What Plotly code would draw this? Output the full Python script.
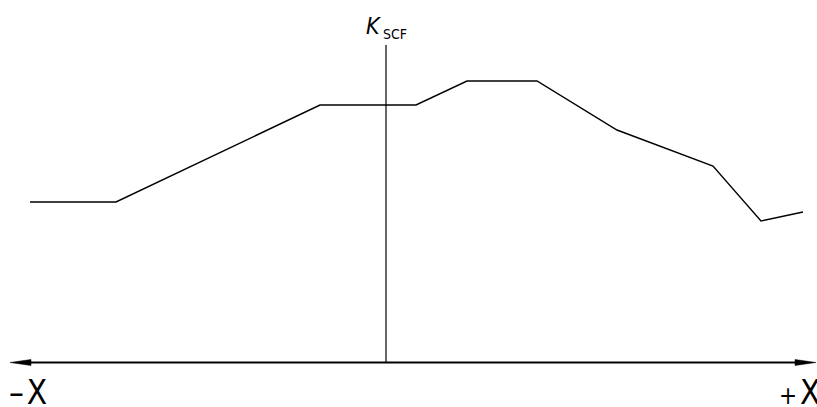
import plotly.graph_objects as go

# Data: position along X (arbitrary units, 0 at the K axis) and K_SCF values
x_pos = [-3.56, -2.70, -0.66, 0.30, 0.81, 1.51, 2.31, 3.27, 3.75, 4.17]
k_scf = [1.60, 1.60, 2.57, 2.57, 2.81, 2.81, 2.32, 1.96, 1.41, 1.50]
axis_labels = ["<span style='font-size:33px'>\u2013</span>\u200aX",
               "<span style='font-size:24px'>+</span>\u200aX"]
y_title_main = "<i>K</i>"
y_title_sub = "SCF"

W, H = 817, 407
X_RANGE = [-3.86, 4.31]
Y_RANGE = [-0.45, 3.62]

def px(xp):
    return xp / W

def py(yp):
    return 1 - yp / H

fig = go.Figure()
fig.add_trace(go.Scatter(x=x_pos, y=k_scf, mode="lines",
                         line=dict(color="black", width=1.4), hoverinfo="skip"))

AXY = 362.5  # pixel row of the horizontal axis
shapes = []
# horizontal axis line
shapes.append(dict(type="line", xref="paper", yref="paper",
                   x0=px(22), x1=px(806), y0=py(AXY), y1=py(AXY),
                   line=dict(color="black", width=2)))
# arrowheads (slim, CAD style)
shapes.append(dict(type="path", xref="paper", yref="paper",
                   path=f"M{px(10)},{py(AXY)} L{px(31)},{py(AXY-3)} L{px(31)},{py(AXY+3)} Z",
                   fillcolor="black", line=dict(color="black", width=0.5)))
shapes.append(dict(type="path", xref="paper", yref="paper",
                   path=f"M{px(816)},{py(AXY)} L{px(795)},{py(AXY-3)} L{px(795)},{py(AXY+3)} Z",
                   fillcolor="black", line=dict(color="black", width=0.5)))
# vertical K axis
shapes.append(dict(type="line", xref="x", yref="paper",
                   x0=0, x1=0, y0=py(AXY), y1=py(45),
                   line=dict(color="black", width=1.2)))

FONT = "DejaVu Sans Condensed, Liberation Sans Narrow, DejaVu Sans, sans-serif"
annotations = [
    dict(text=y_title_main, xref="paper", yref="paper", x=px(364), y=py(41),
         xanchor="left", yanchor="bottom", showarrow=False,
         font=dict(family=FONT, size=23, color="black")),
    dict(text=y_title_sub, xref="paper", yref="paper", x=px(381), y=py(44),
         xanchor="left", yanchor="bottom", showarrow=False,
         font=dict(family=FONT, size=14, color="black")),
    dict(text=axis_labels[0], xref="paper", yref="paper", x=px(7), y=py(392),
         xanchor="left", yanchor="middle", showarrow=False,
         font=dict(family=FONT, size=33, color="black")),
    dict(text=axis_labels[1], xref="paper", yref="paper", x=px(822), y=py(392),
         xanchor="right", yanchor="middle", showarrow=False,
         font=dict(family=FONT, size=33, color="black")),
]

fig.update_layout(
    width=W, height=H,
    margin=dict(l=0, r=0, t=0, b=0),
    paper_bgcolor="white", plot_bgcolor="white",
    showlegend=False,
    xaxis=dict(range=X_RANGE, visible=False, fixedrange=True),
    yaxis=dict(range=Y_RANGE, visible=False, fixedrange=True),
    shapes=shapes, annotations=annotations,
)

fig.write_html("out.html", config={"displayModeBar": False},
               post_script="document.body.style.margin='0px';document.body.style.overflow='hidden';")
